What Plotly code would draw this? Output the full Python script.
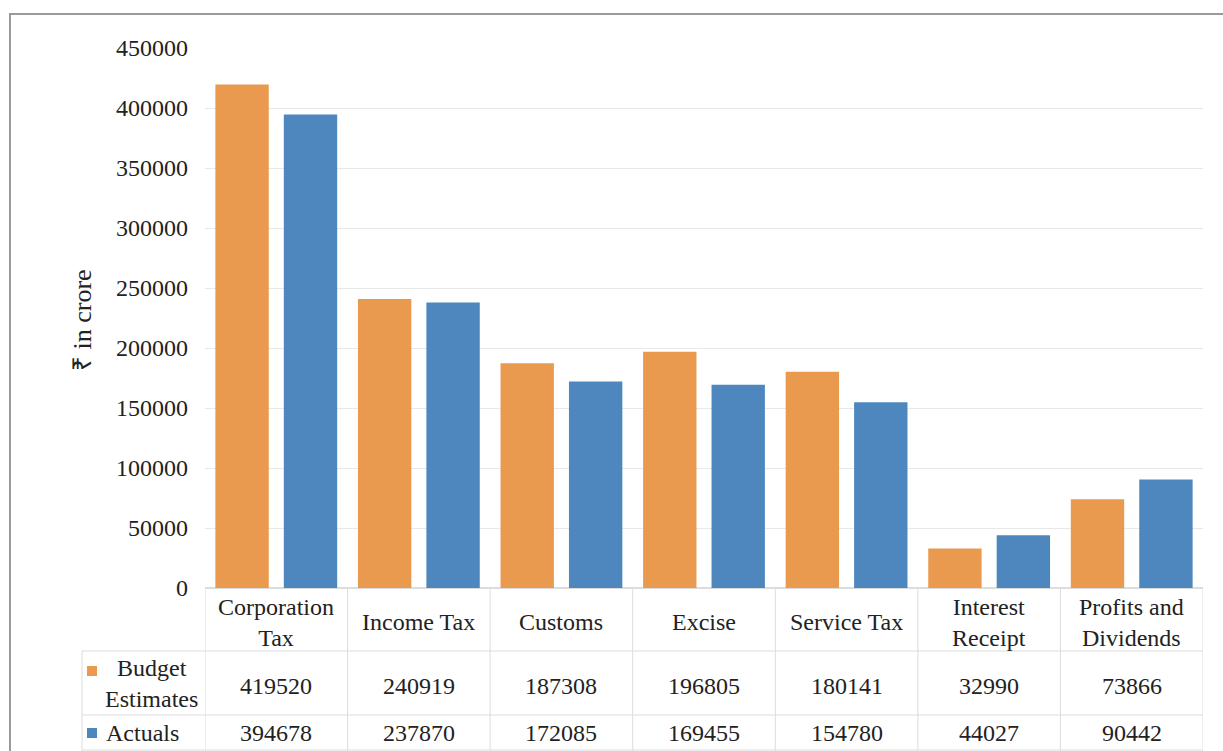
import plotly.graph_objects as go

categories = ["Corporation Tax", "Income Tax", "Customs", "Excise", "Service Tax",
              "Interest Receipt", "Profits and Dividends"]
header_labels = ["Corporation<br>Tax", "Income Tax", "Customs", "Excise", "Service Tax",
                 "Interest<br>Receipt", "Profits and<br>Dividends"]
budget_estimates = [419520, 240919, 187308, 196805, 180141, 32990, 73866]
actuals = [394678, 237870, 172085, 169455, 154780, 44027, 90442]
y_ticks = [0, 50000, 100000, 150000, 200000, 250000, 300000, 350000, 400000, 450000]

ORANGE = "#E99A4E"
BLUE = "#4D87BE"
TXT = "#222222"
FONT = "Liberation Serif"

W, H = 1223, 751
PL, PR, PT, PB = 205, 1203, 48, 588  # plot area in pixels


def px(x):
    return (x - PL) / (PR - PL)


def py(y):
    return (PB - y) / (PB - PT)


fig = go.Figure()
fig.add_trace(go.Bar(x=categories, y=budget_estimates, name="Budget Estimates",
                     marker=dict(color=ORANGE, line=dict(width=0))))
fig.add_trace(go.Bar(x=categories, y=actuals, name="Actuals",
                     marker=dict(color=BLUE, line=dict(width=0))))

shapes = []
annotations = []

# outer frame
shapes.append(dict(type="rect", xref="paper", yref="paper",
                   x0=px(10), x1=px(1240), y0=py(770), y1=py(14),
                   line=dict(color="#9a9a9a", width=2), layer="below"))

TL = "#dcdcdc"
# table horizontal lines
for yy in [651, 715, 750]:
    shapes.append(dict(type="line", xref="paper", yref="paper",
                       x0=px(82), x1=px(PR), y0=py(yy), y1=py(yy),
                       line=dict(color=TL, width=1)))
# left boundary of row-label column
shapes.append(dict(type="line", xref="paper", yref="paper",
                   x0=px(82), x1=px(82), y0=py(651), y1=py(751),
                   line=dict(color=TL, width=1)))
# vertical table lines at category boundaries
for i in range(len(categories) + 1):
    shapes.append(dict(type="line", xref="x", yref="paper",
                       x0=i - 0.5, x1=i - 0.5, y0=py(751), y1=0,
                       line=dict(color=TL, width=1)))

# legend keys
shapes.append(dict(type="rect", xref="paper", yref="paper",
                   x0=px(87), x1=px(97), y0=py(676), y1=py(666),
                   fillcolor=ORANGE, line=dict(width=0)))
shapes.append(dict(type="rect", xref="paper", yref="paper",
                   x0=px(87), x1=px(97), y0=py(738), y1=py(728),
                   fillcolor=BLUE, line=dict(width=0)))

FS = 24
for cat, lab, b, a in zip(categories, header_labels, budget_estimates, actuals):
    annotations.append(dict(x=cat, y=py(622), xref="x", yref="paper", text=lab,
                            showarrow=False, xanchor="center", yanchor="middle",
                            align="center", font=dict(size=FS, color=TXT, family=FONT)))
    annotations.append(dict(x=cat, y=py(686), xref="x", yref="paper", text=str(b),
                            showarrow=False, xanchor="center", yanchor="middle",
                            font=dict(size=FS, color=TXT, family=FONT)))
    annotations.append(dict(x=cat, y=py(733), xref="x", yref="paper", text=str(a),
                            showarrow=False, xanchor="center", yanchor="middle",
                            font=dict(size=FS, color=TXT, family=FONT)))

annotations.append(dict(x=px(151), y=py(683), xref="paper", yref="paper",
                        text="Budget<br>Estimates", showarrow=False, xanchor="center",
                        yanchor="middle", align="center",
                        font=dict(size=FS, color=TXT, family=FONT)))
annotations.append(dict(x=px(104), y=py(733), xref="paper", yref="paper",
                        text="Actuals", showarrow=False, xanchor="left",
                        yanchor="middle", font=dict(size=FS, color=TXT, family=FONT)))
# y axis title
annotations.append(dict(x=px(82), y=py(320), xref="paper", yref="paper",
                        text="₹ in crore", showarrow=False, textangle=-90,
                        xanchor="center", yanchor="middle",
                        font=dict(size=26, color=TXT, family=FONT)))

fig.update_layout(
    width=W, height=H,
    margin=dict(l=PL, r=W - PR, t=PT, b=H - PB, pad=0),
    paper_bgcolor="white", plot_bgcolor="white",
    barmode="group", bargap=0.04, bargroupgap=0.22,
    showlegend=False,
    shapes=shapes, annotations=annotations,
    font=dict(family=FONT, color=TXT),
)
fig.update_xaxes(showticklabels=False, showgrid=False, zeroline=False,
                 showline=False, ticks="", range=[-0.5, 6.5])
fig.update_yaxes(range=[0, 450000], tickvals=y_ticks, ticktext=[str(v) for v in y_ticks],
                 showgrid=True, gridcolor="#e8e8e8", gridwidth=1,
                 zeroline=True, zerolinecolor="#dcdcdc", showline=False, ticks="",
                 ticklabelstandoff=16,
                 tickfont=dict(size=FS, color=TXT, family=FONT))

fig.write_html("out.html", config={"displayModeBar": False},
               post_script="document.body.style.margin='0';document.body.style.overflow='hidden';")
